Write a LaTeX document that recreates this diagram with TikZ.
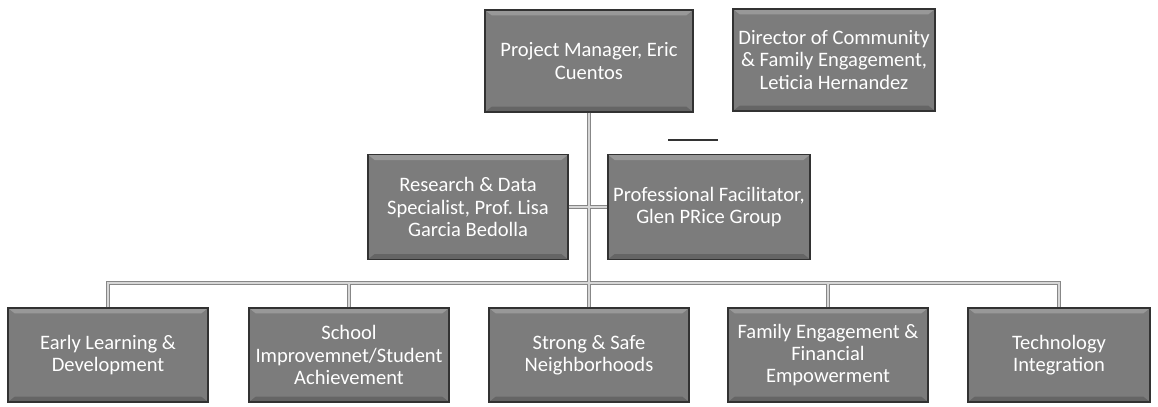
\documentclass[tikz,border=0pt]{standalone}
\usepackage{fontspec}
\setmainfont{Carlito}
\definecolor{boxgray}{RGB}{124,124,124}
\definecolor{boxedge}{RGB}{50,50,50}
\definecolor{linkout}{RGB}{135,135,135}
\definecolor{linkin}{RGB}{215,215,215}
\begin{document}
\begin{tikzpicture}[x=0.75pt,y=-0.75pt,
  unit/.style={draw=boxedge,line width=0.9pt,fill=boxgray,text=white,align=center,
    inner xsep=1pt,inner ysep=2pt,font=\fontsize{15.4}{16.8}\selectfont,
    path picture={\fill[white,opacity=.22]
      (path picture bounding box.north west) -- (path picture bounding box.north east)
      -- ([shift={(-5pt,-4pt)}]path picture bounding box.north east)
      -- ([shift={(5pt,-4pt)}]path picture bounding box.north west) -- cycle;
      \fill[black,opacity=.18]
      (path picture bounding box.south west) -- (path picture bounding box.south east)
      -- ([shift={(-5pt,4pt)}]path picture bounding box.south east)
      -- ([shift={(5pt,4pt)}]path picture bounding box.south west) -- cycle;}},
  head/.style={unit,minimum width=156pt,minimum height=76.5pt},
  staff/.style={unit,minimum width=150pt,minimum height=78.5pt},
  area/.style={unit,minimum width=150pt,minimum height=70.5pt},
  link/.style={draw=linkin,line width=1.5pt,preaction={draw=linkout,line width=3.6pt}}]
\useasboundingbox (0,0) rectangle (1158,407);
\node[head] (pm) at (589,61) {Project Manager, Eric\\Cuentos};
\node[head,minimum width=151.5pt] (dir) at (834,60) {Director of Community\\\& Family Engagement,\\Leticia Hernandez};
\node[staff] (rd) at (468,207) {Research \& Data\\Specialist, Prof.\ Lisa\\Garcia Bedolla};
\node[staff,minimum width=151.5pt] (pf) at (709,207) {Professional Facilitator,\\Glen PRice Group};
\node[area] (b1) at (108,355) {Early Learning \&\\Development};
\node[area] (b2) at (349,355) {School\\Improvemnet/Student\\Achievement};
\node[area] (b3) at (589,355) {Strong \& Safe\\Neighborhoods};
\node[area] (b4) at (828,355) {Family Engagement \&\\Financial\\Empowerment};
\node[area,minimum width=136.5pt] (b5) at (1059,355) {Technology\\Integration};
\coordinate (bus) at (588,283);
\draw[link] (pm.south) -- (pm.south |- bus)
  (rd.east) -- (pf.west)
  (b1.north) -- (b1.north |- bus) -- (b5.north |- bus) -- (b5.north)
  (b2.north) -- (b2.north |- bus) (b3.north) -- (b3.north |- bus)
  (b4.north) -- (b4.north |- bus);
\draw[line width=0.9pt,black!80] (668,140) -- (718,140);
\end{tikzpicture}
\end{document}
